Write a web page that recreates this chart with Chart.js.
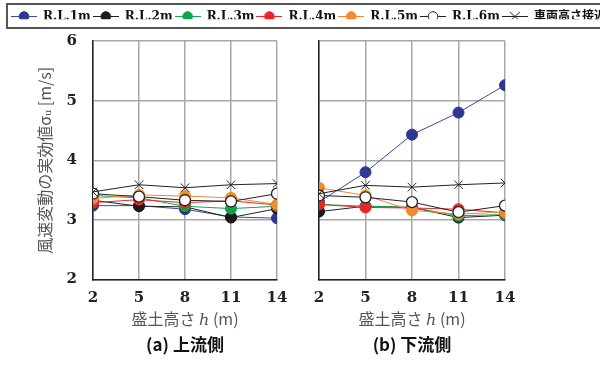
<!DOCTYPE html>
<html>
<head>
<meta charset="UTF-8">
<title>風速変動の実効値</title>
<script src="https://cdn.jsdelivr.net/npm/chart.js@4.4.1/dist/chart.umd.min.js"></script>
<style>
	body { margin: 0; width: 600px; height: 365px; overflow: hidden; background: #fff; position: relative; }
	.box { position: absolute; }
</style>
</head>
<body>

	<div class="box" style="left:0; top:0; width:600px; height:30px; overflow:hidden;">
		<canvas id="legend" width="760" height="30"></canvas>
	</div>
	<div class="box" style="left:0; top:30px;">
		<canvas id="up" width="292" height="335"></canvas>
	</div>
	<div class="box" style="left:300px; top:30px;">
		<canvas id="down" width="220" height="335"></canvas>
	</div>

	<script type="text/javascript">

	// 盛土高さ h (m)
	var heights = [2, 5, 8, 11, 14];
	var yTicks = [2, 3, 4, 5, 6];
	var seriesNames = ['R.L.1m', 'R.L.2m', 'R.L.3m', 'R.L.4m', 'R.L.5m', 'R.L.6m', '車両高さ接近流'];

	// (a) 上流側
	var upRL1 = [3.24, 3.24, 3.18, 3.05, 3.03];
	var upRL2 = [3.33, 3.23, 3.22, 3.04, 3.19];
	var upRL3 = [3.41, 3.37, 3.23, 3.19, 3.23];
	var upRL4 = [3.29, 3.34, 3.29, 3.32, 3.25];
	var upRL5 = [3.36, 3.42, 3.40, 3.37, 3.26];
	var upRL6 = [3.44, 3.39, 3.33, 3.31, 3.44];
	var upVeh = [3.47, 3.59, 3.54, 3.59, 3.61];

	// (b) 下流側
	var downRL1 = [3.30, 3.80, 4.43, 4.80, 5.26];
	var downRL2 = [3.14, 3.23, 3.21, 3.04, 3.08];
	var downRL3 = [3.26, 3.23, 3.21, 3.07, 3.09];
	var downRL4 = [3.26, 3.21, 3.20, 3.18, 3.12];
	var downRL5 = [3.54, 3.41, 3.16, 3.10, 3.13];
	var downRL6 = [3.41, 3.38, 3.30, 3.13, 3.24];
	var downVeh = [3.44, 3.58, 3.55, 3.59, 3.62];

	var lineColors = ['#3c45a8', '#222222', '#17a650', '#e8282c', '#f08a2e', '#222222', '#222222'];
	var fillColors = ['#2f3794', '#1a1a1a', '#0fa34d', '#e8262a', '#f28a2e', '#ffffff', '#222222'];
	var pointStyles = ['circle', 'circle', 'circle', 'circle', 'circle', 'circle', 'crossRot'];

	var tickFont = { family: "'DejaVu Serif'", size: 15, weight: 'bold' };
	var titleFont = { family: "'Noto Sans CJK JP', 'DejaVu Serif'", size: 16 };
	var gridColor = '#a8a8a8';

	function makeDatasets(seriesList) {
		return seriesList.map(function(vals, i) {
			return {
				label: seriesNames[i],
				data: heights.map(function(h, j) { return { x: h, y: vals[j] }; }),
				borderColor: lineColors[i],
				borderWidth: 1,
				pointStyle: pointStyles[i],
				pointRadius: i == 6 ? 6 : 5.5,
				pointBackgroundColor: fillColors[i],
				pointBorderColor: i >= 5 ? '#222222' : fillColors[i],
				pointBorderWidth: i == 5 ? 1.3 : 1,
				order: seriesList.length - i,
				tension: 0
			};
		});
	}

	function panel(id, seriesList, subtitle, withYLabels) {
		var ctx = document.getElementById(id).getContext('2d');
		return new Chart(ctx, {
			type: 'line',
			data: { datasets: makeDatasets(seriesList) },
			options: {
				responsive: false,
				animation: false,
				layout: { padding: { top: 11, right: 15, left: 0, bottom: 0 } },
				plugins: {
					legend: { display: false },
					tooltip: { enabled: false },
					title: {
						display: true,
						position: 'bottom',
						fullSize: false,
						text: subtitle,
						color: '#111',
						font: { family: "'Noto Sans CJK JP'", size: 17, weight: 'bold' },
						padding: { top: 6, bottom: 10 }
					}
				},
				scales: {
					x: {
						type: 'linear',
						min: 2,
						max: 14,
						afterBuildTicks: function(s) { s.ticks = heights.map(function(v) { return { value: v }; }); },
						afterFit: function(s) {
							s.height = 49;
							s.paddingLeft = 0;
							s.paddingRight = 0;
						},
						grid: { color: gridColor, lineWidth: 1.5, drawTicks: false },
						border: { color: '#222', width: 1.5 },
						ticks: { padding: 10, color: '#222', font: tickFont, maxRotation: 0 },
						title: { display: true, text: '盛土高さ ℎ (m)', color: '#555', font: titleFont, padding: 0 }
					},
					y: {
						min: 2,
						max: 6,
						afterBuildTicks: function(s) { s.ticks = yTicks.map(function(v) { return { value: v }; }); },
						afterFit: function(s) {
							s.width = withYLabels ? 93 : 19;
							s.paddingTop = 0;
							s.paddingBottom = 0;
						},
						grid: { color: gridColor, lineWidth: 1.5, drawTicks: false },
						border: { color: '#222', width: 1.5 },
						ticks: { display: withYLabels, padding: 16, color: '#222', font: tickFont },
						title: {
							display: withYLabels,
							text: '風速変動の実効値σᵤ [m/s]',
							color: '#555',
							font: titleFont,
							padding: { top: 35, bottom: 0 }
						}
					}
				}
			}
		});
	}

	// small line + marker icons for the legend
	function legendIcon(i) {
		var c = document.createElement('canvas');
		c.width = 26;
		c.height = 13;
		var g = c.getContext('2d');
		g.strokeStyle = lineColors[i];
		g.lineWidth = 1;
		g.beginPath();
		g.moveTo(0, 6.5);
		g.lineTo(26, 6.5);
		g.stroke();
		if (pointStyles[i] == 'crossRot') {
			g.strokeStyle = '#222';
			g.beginPath();
			g.moveTo(8, 2); g.lineTo(18, 11);
			g.moveTo(18, 2); g.lineTo(8, 11);
			g.stroke();
		} else {
			g.fillStyle = fillColors[i];
			g.strokeStyle = i == 5 ? '#222' : fillColors[i];
			g.beginPath();
			g.arc(13, 6.5, 4.8, 0, Math.PI * 2);
			g.fill();
			g.stroke();
		}
		return c;
	}

	var legendBox = {
		id: 'legendBox',
		afterDraw: function(chart) {
			var g = chart.ctx;
			g.save();
			g.strokeStyle = '#555';
			g.lineWidth = 2;
			g.strokeRect(7, 4, 900, 24);
			g.restore();
		}
	};

	new Chart(document.getElementById('legend').getContext('2d'), {
		type: 'line',
		data: {
			datasets: seriesNames.map(function(name) { return { label: name, data: [] }; })
		},
		options: {
			responsive: false,
			animation: false,
			layout: { padding: { left: 9, top: 8.5 } },
			scales: { x: { display: false }, y: { display: false } },
			plugins: {
				tooltip: { enabled: false },
				legend: {
					position: 'top',
					align: 'start',
					labels: {
						usePointStyle: true,
						pointStyleWidth: 26,
						boxHeight: 12,
						padding: 2,
						color: '#111',
						font: { family: "'DejaVu Serif', 'Noto Sans CJK JP'", size: 12, weight: 'bold' },
						generateLabels: function(chart) {
							return chart.data.datasets.map(function(ds, i) {
								return {
									text: ds.label,
									pointStyle: legendIcon(i),
									fillStyle: fillColors[i],
									strokeStyle: lineColors[i],
									lineWidth: 0,
									hidden: false,
									datasetIndex: i,
									fontColor: '#111',
									rotation: 0
								};
							});
						}
					}
				}
			}
		},
		plugins: [legendBox]
	});

	panel('up', [upRL1, upRL2, upRL3, upRL4, upRL5, upRL6, upVeh], '(a) 上流側', true);
	panel('down', [downRL1, downRL2, downRL3, downRL4, downRL5, downRL6, downVeh], '(b) 下流側', false);

	</script>
</body>
</html>
